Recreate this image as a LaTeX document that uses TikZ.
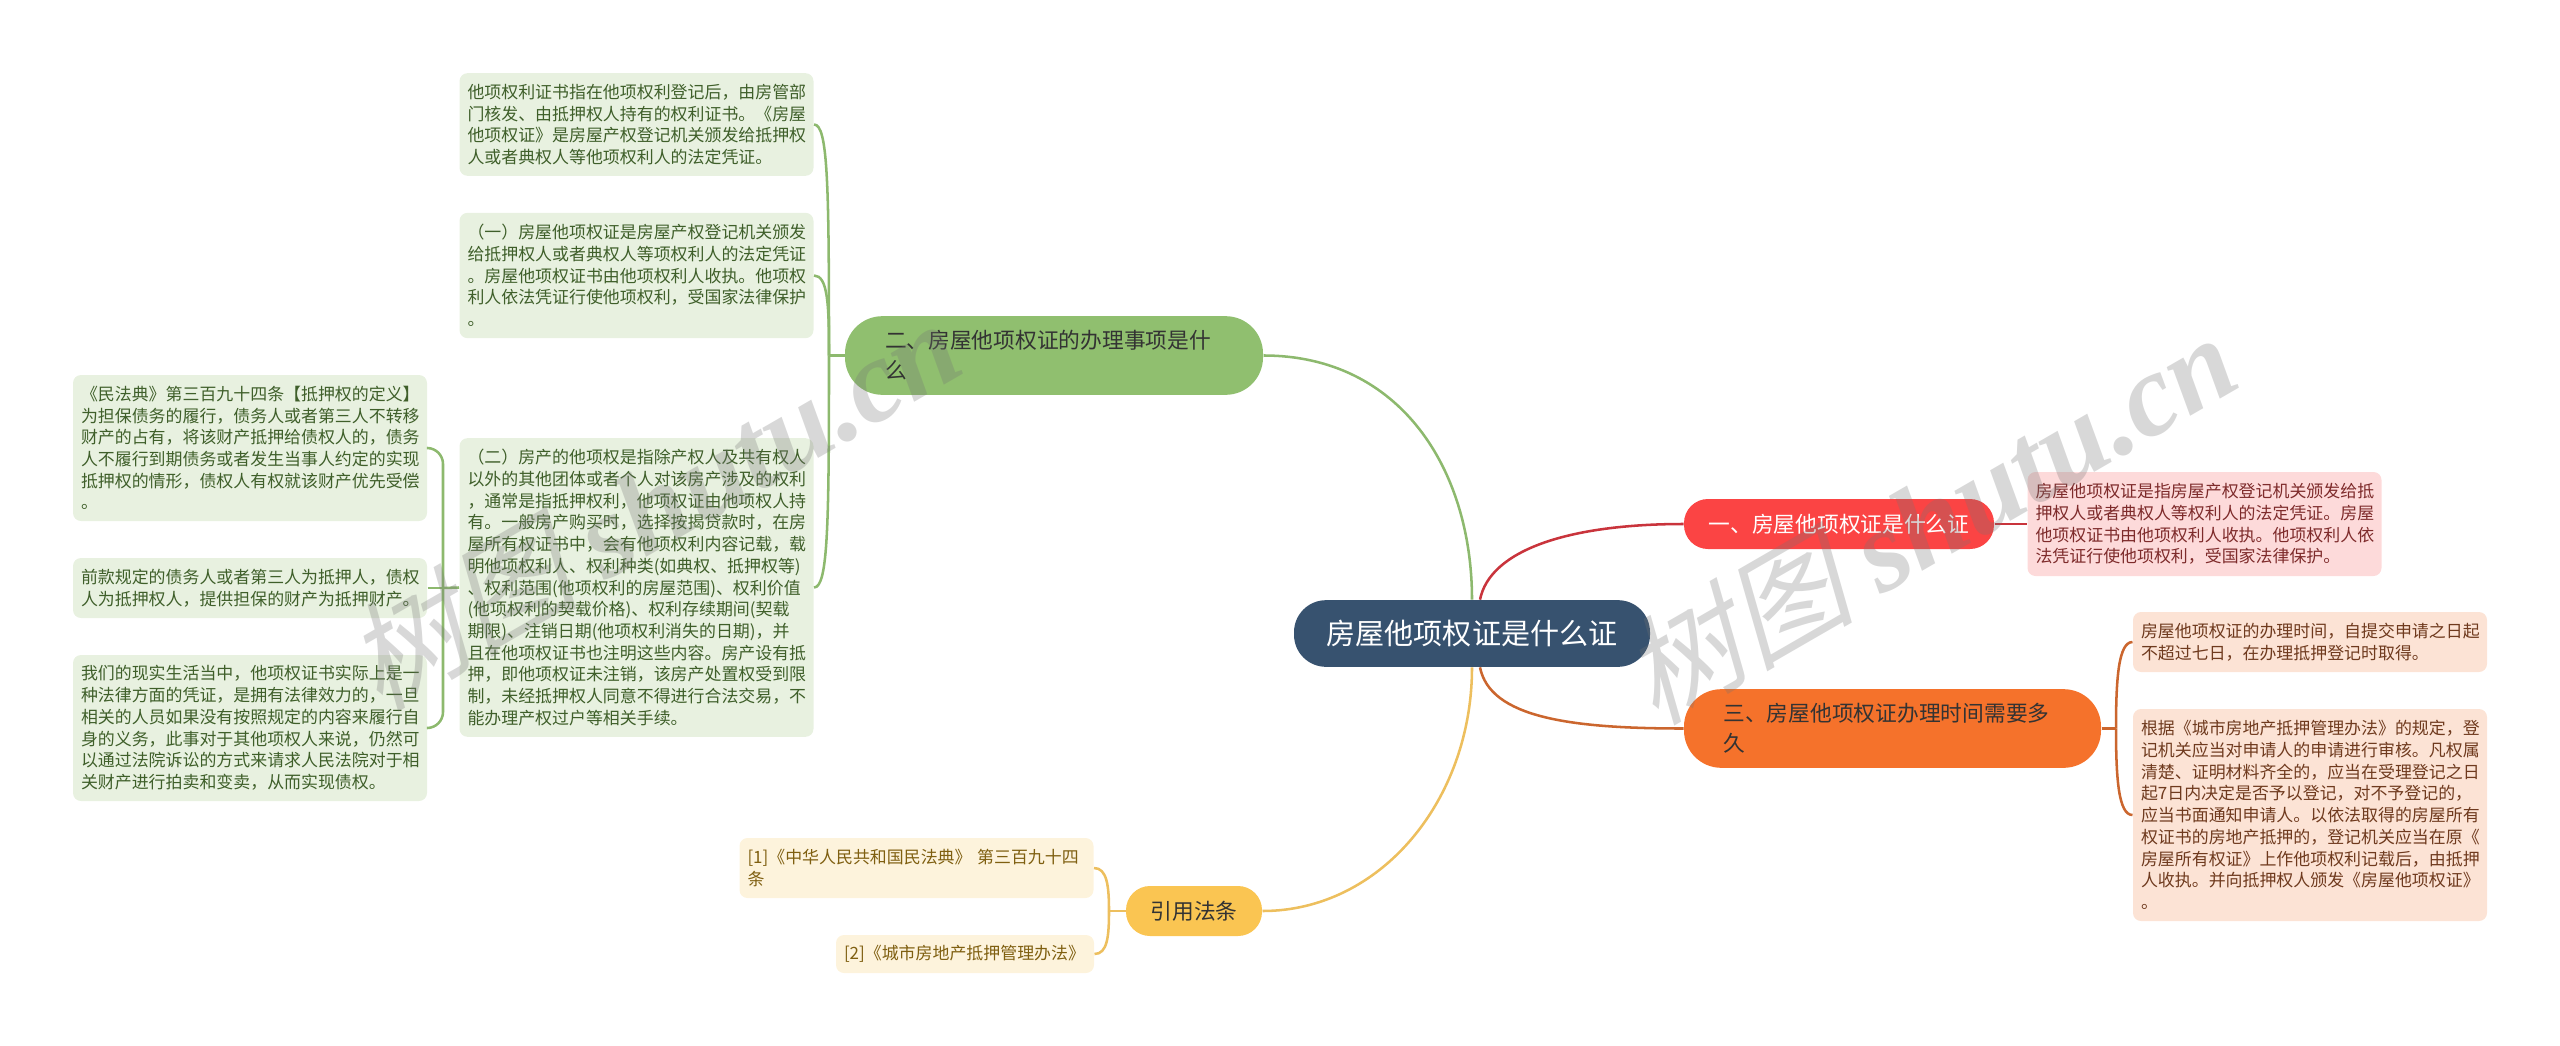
\documentclass[tikz,border=0pt]{standalone}
\usepackage{fontspec}
\setmainfont{Noto Sans CJK SC}
\newfontfamily\wmfont[FakeSlant=0.25]{Noto Sans CJK SC}
\newfontfamily\wmlatin{Liberation Serif}

\definecolor{rootblue}{HTML}{37526F}
\definecolor{nodegreen}{HTML}{90BF6F}
\definecolor{leafgreen}{HTML}{E8F1E0}
\definecolor{textgreen}{HTML}{3F5F2A}
\definecolor{linegreen}{HTML}{8DB96E}
\definecolor{nodered}{HTML}{FB4444}
\definecolor{leafred}{HTML}{FDDADA}
\definecolor{textred}{HTML}{7E2B2B}
\definecolor{linered}{HTML}{C9343C}
\definecolor{nodeorange}{HTML}{F5722B}
\definecolor{leaforange}{HTML}{FCE3D5}
\definecolor{textorange}{HTML}{6F3A1E}
\definecolor{lineorange}{HTML}{CB662E}
\definecolor{nodeyellow}{HTML}{FAC552}
\definecolor{leafyellow}{HTML}{FDF3DC}
\definecolor{textyellow}{HTML}{7F5F10}
\definecolor{lineyellow}{HTML}{EDBF5E}

\tikzset{every picture/.style={line width=0.75pt},
  leafbox/.style={rounded corners=6pt,inner xsep=6pt,inner ysep=0pt,text width=253.5pt,align=left,font=\fontsize{12.7}{16.3}\selectfont},
  leafg/.style={leafbox,fill=leafgreen,text=textgreen},
  leafr/.style={leafbox,fill=leafred,text=textred},
  leafo/.style={leafbox,fill=leaforange,text=textorange},
  leafy/.style={leafbox,fill=leafyellow,text=textyellow},
  branchbox/.style={rounded corners=18pt,inner sep=0pt,align=left,font=\fontsize{16.3}{22.5}\selectfont,text=black!80},
  glink/.style={draw=linegreen,line width=1.9pt},
  rlink/.style={draw=linered,line width=1.9pt},
  olink/.style={draw=lineorange,line width=1.9pt},
  ylink/.style={draw=lineyellow,line width=1.9pt},
  watermark/.style={text=black!55,opacity=0.28,rotate=30,inner sep=0pt}
}

\begin{document}
\begin{tikzpicture}[x=0.75pt,y=0.75pt,yscale=-1,xscale=1]
\useasboundingbox (0,0) rectangle (2560,1046);

% Root
\draw (1472,633.5) node [fill=rootblue,text=white,rounded corners=24pt,minimum width=267pt,minimum height=50pt,inner sep=0pt,font=\fontsize{21.8}{26}\selectfont] (root) {房屋他项权证是什么证};

% Branches
\draw (1054,355.5) node [branchbox,fill=nodegreen,rounded corners=28pt,minimum width=313.5pt,minimum height=59pt,text width=253.5pt] (brtwo) {二、房屋他项权证的办理事项是什\\么};
\draw (1839,524) node [branchbox,fill=nodered,text=white,minimum width=232.5pt,minimum height=37.5pt] (brone) {一、房屋他项权证是什么证};
\draw (1892.5,728.5) node [branchbox,fill=nodeorange,rounded corners=28pt,minimum width=312.75pt,minimum height=59pt,text width=253.5pt] (brthree) {三、房屋他项权证办理时间需要多\\久};
\draw (1194,911) node [branchbox,fill=nodeyellow,minimum width=102pt,minimum height=37.5pt,align=center] (brlaw) {引用法条};

% Green leaves
\draw (636.5,124.5) node [leafg,minimum height=77pt] (leafga) {他项权利证书指在他项权利登记后，由房管部\\门核发、由抵押权人持有的权利证书。《房屋\\他项权证》是房屋产权登记机关颁发给抵押权\\人或者典权人等他项权利人的法定凭证。};
\draw (636.5,275.5) node [leafg,minimum height=94pt] (leafgb) {（一）房屋他项权证是房屋产权登记机关颁发\\给抵押权人或者典权人等项权利人的法定凭证\\。房屋他项权证书由他项权利人收执。他项权\\利人依法凭证行使他项权利，受国家法律保护\\。};
\draw (636.5,587.5) node [leafg,minimum height=224pt] (leafgc) {（二）房产的他项权是指除产权人及共有权人\\以外的其他团体或者个人对该房产涉及的权利\\，通常是指抵押权利，他项权证由他项权人持\\有。一般房产购买时，选择按揭贷款时，在房\\屋所有权证书中，会有他项权利内容记载，载\\明他项权利人、权利种类(如典权、抵押权等)\\、权利范围(他项权利的房屋范围)、权利价值\\(他项权利的契载价格)、权利存续期间(契载\\期限)、注销日期(他项权利消失的日期)，并\\且在他项权证书也注明这些内容。房产设有抵\\押，即他项权证未注销，该房产处置权受到限\\制，未经抵押权人同意不得进行合法交易，不\\能办理产权过户等相关手续。};

% Far left leaves
\draw (250,448) node [leafg,minimum height=109.5pt] (leafla) {《民法典》第三百九十四条【抵押权的定义】\\为担保债务的履行，债务人或者第三人不转移\\财产的占有，将该财产抵押给债权人的，债务\\人不履行到期债务或者发生当事人约定的实现\\抵押权的情形，债权人有权就该财产优先受偿\\。};
\draw (250,588) node [leafg,minimum height=45pt] (leaflb) {前款规定的债务人或者第三人为抵押人，债权\\人为抵押权人，提供担保的财产为抵押财产。};
\draw (250,728) node [leafg,minimum height=109.5pt] (leaflc) {我们的现实生活当中，他项权证书实际上是一\\种法律方面的凭证，是拥有法律效力的，一旦\\相关的人员如果没有按照规定的内容来履行自\\身的义务，此事对于其他项权人来说，仍然可\\以通过法院诉讼的方式来请求人民法院对于相\\关财产进行拍卖和变卖，从而实现债权。};

% Right leaves
\draw (2204.5,524) node [leafr,minimum height=78pt] (leafra) {房屋他项权证是指房屋产权登记机关颁发给抵\\押权人或者典权人等权利人的法定凭证。房屋\\他项权证书由他项权利人收执。他项权利人依\\法凭证行使他项权利，受国家法律保护。};
\draw (2310,642) node [leafo,minimum height=45pt] (leafoa) {房屋他项权证的办理时间，自提交申请之日起\\不超过七日，在办理抵押登记时取得。};
\draw (2310,815) node [leafo,minimum height=159pt] (leafob) {根据《城市房地产抵押管理办法》的规定，登\\记机关应当对申请人的申请进行审核。凡权属\\清楚、证明材料齐全的，应当在受理登记之日\\起7日内决定是否予以登记，对不予登记的，\\应当书面通知申请人。以依法取得的房屋所有\\权证书的房地产抵押的，登记机关应当在原《\\房屋所有权证》上作他项权利记载后，由抵押\\人收执。并向抵押权人颁发《房屋他项权证》\\。};

% Law leaves
\draw (916.5,868) node [leafy,minimum height=45pt] (leafya) {[1]《中华人民共和国民法典》 第三百九十四\\条};
\draw (965,954) node [leafy,minimum height=28.5pt,text width=181.5pt] (leafyb) {[2]《城市房地产抵押管理办法》};

% Junctions
\coordinate (jgreen) at (829,355.5);
\coordinate (jleft) at (443,588);
\coordinate (jorange) at (2116,728.5);
\coordinate (jyellow) at (1109,911);

% Root links
\draw [glink] (brtwo.east) .. controls +(137,0) and +(0,-130) .. (root.north);
\draw [rlink] ([xshift=6pt]root.north) .. controls +(10,-50) and +(-114,0) .. (brone.west);
\draw [olink] ([xshift=6pt]root.south) .. controls +(10,50) and +(-114,0) .. (brthree.west);
\draw [ylink] (brlaw.east) .. controls +(118,0) and +(0,133) .. (root.south);

% Green tree
\draw [glink] (brtwo.west) -- (jgreen);
\draw [glink] (leafga.east) .. controls +(14,0) and +(0,-170) .. (jgreen);
\draw [glink] (leafgb.east) .. controls +(14,0) and +(0,-50) .. (jgreen);
\draw [glink] (leafgc.east) .. controls +(14,0) and +(0,170) .. (jgreen);

% Far left tree
\draw [glink] (leafgc.west) -- (jleft);
\draw [glink,rounded corners=12pt] (leafla.east) -| (jleft);
\draw [glink] (leaflb.east) -- (jleft);
\draw [glink,rounded corners=12pt] (leaflc.east) -| (jleft);

% Right trees
\draw [rlink] (brone.east) -- (leafra.west);
\draw [olink] (brthree.east) -- (jorange);
\draw [olink] (leafoa.west) .. controls +(-14,0) and +(0,-50) .. (jorange);
\draw [olink] (leafob.west) .. controls +(-14,0) and +(0,50) .. (jorange);

% Law tree
\draw [ylink] (brlaw.west) -- (jyellow);
\draw [ylink] (leafya.east) .. controls +(13,0) and +(0,-25) .. (jyellow);
\draw [ylink] (leafyb.east) .. controls +(13,0) and +(0,25) .. (jyellow);

% Watermarks
\draw (652,503) node [watermark] (wmleft) {\wmfont\fontsize{88}{92}\selectfont 树图 \wmlatin\bfseries\itshape shutu.cn};
\draw (1928,517) node [watermark] (wmright) {\wmfont\fontsize{88}{92}\selectfont 树图 \wmlatin\bfseries\itshape shutu.cn};

\end{tikzpicture}
\end{document}
